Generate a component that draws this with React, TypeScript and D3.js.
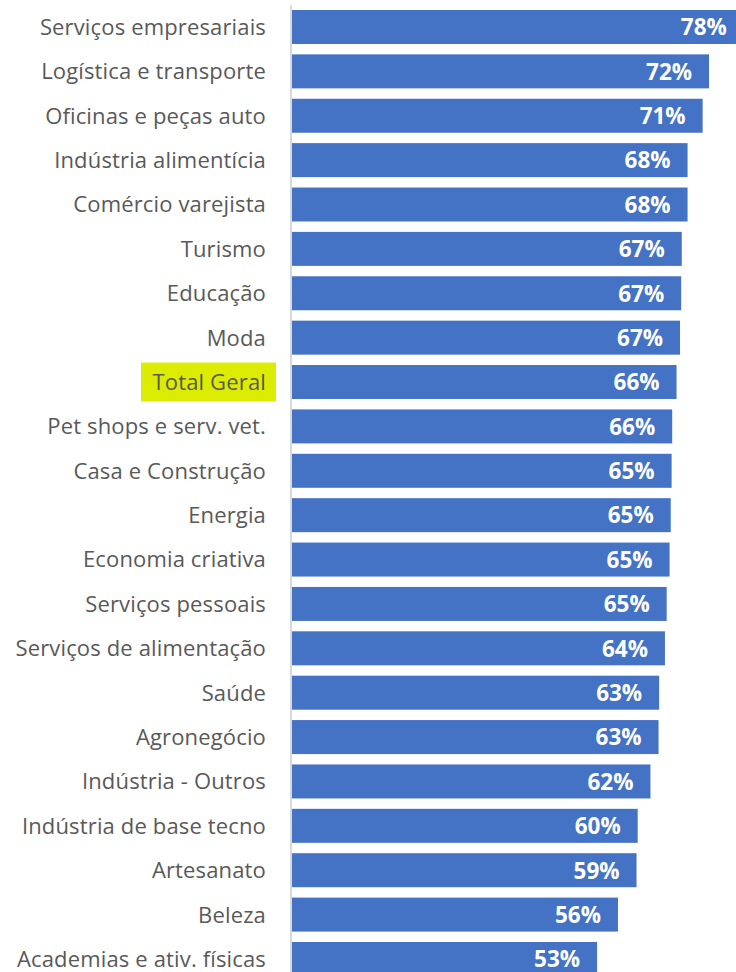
import React from "react";
import * as d3 from "d3";

const categories = [
  "Serviços empresariais",
  "Logística e transporte",
  "Oficinas e peças auto",
  "Indústria alimentícia",
  "Comércio varejista",
  "Turismo",
  "Educação",
  "Moda",
  "Total Geral",
  "Pet shops e serv. vet.",
  "Casa e Construção",
  "Energia",
  "Economia criativa",
  "Serviços pessoais",
  "Serviços de alimentação",
  "Saúde",
  "Agronegócio",
  "Indústria - Outros",
  "Indústria de base tecno",
  "Artesanato",
  "Beleza",
  "Academias e ativ. físicas",
];

const values = [
  77.9, 71.9, 70.8, 68.2, 68.2, 67.2, 67.1, 66.9, 66.3, 65.55, 65.45, 65.3, 65.1,
  64.6, 64.3, 63.3, 63.2, 61.8, 59.6, 59.4, 56.2, 52.6,
];

const highlighted = ["Total Geral"];

const W = 736;
const H = 972;
const X0 = 292;

export default function App() {
  const x = d3.scaleLinear().domain([0, 100]).range([X0, X0 + 580]);
  const y = d3
    .scaleBand<string>()
    .domain(categories)
    .range([4.8, 4.8 + 22 * 44.38])
    .paddingInner(0.234)
    .paddingOuter(0.117);
  const bw = y.bandwidth();
  const fmt = (v: number) => `${Math.round(v)}%`;
  return (
    <svg
      width={W}
      height={H}
      style={{ position: "absolute", left: 0, top: 0, background: "#fff" }}
      fontFamily="'Open Sans', 'Noto Sans', sans-serif"
    >
      {categories.map((c, i) => {
        const yy = y(c)!;
        const cy = yy + bw / 2;
        const isHi = highlighted.includes(c);
        return (
          <g key={c}>
            {isHi && (
              <rect x={141} y={cy - 19.5} width={135} height={39} fill="#dbec00" />
            )}
            <text
              x={266}
              y={cy}
              dy="0.36em"
              textAnchor="end"
              fontSize={22}
              letterSpacing={0.15}
              fill="#595959"
            >
              {c}
            </text>
            <rect x={X0} y={yy} width={x(values[i]) - X0} height={bw} fill="#4472c4" />
            <text
              x={x(values[i]) - 17}
              y={cy}
              dy="0.37em"
              textAnchor="end"
              fontSize={22.5}
              fontWeight="bold"
              fill="#ffffff"
            >
              {fmt(values[i])}
            </text>
          </g>
        );
      })}
      <line x1={291} x2={291} y1={5} y2={H} stroke="#d9d9d9" strokeWidth={2} />
    </svg>
  );
}
